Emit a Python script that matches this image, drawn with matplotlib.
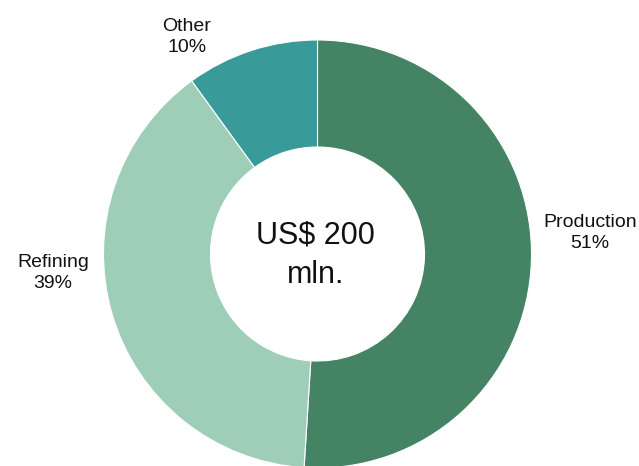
import matplotlib.pyplot as plt
from matplotlib import font_manager

segments = ["Production", "Refining", "Other"]
shares = [51, 39, 10]
colors = ["#448465", "#9ecdb8", "#389a99"]
total_label = "US$ 200\nmln."

names = {f.name for f in font_manager.fontManager.ttflist}
family = "Liberation Sans Narrow" if "Liberation Sans Narrow" in names else "Liberation Sans"
plt.rcParams["font.family"] = [family, "DejaVu Sans"]

fig = plt.figure(figsize=(6.39, 4.66), dpi=100)
ax = fig.add_axes([0, 0, 1, 1])

cx, cy, r_out = 317.5, 212, 214
ax.pie(shares, colors=colors, startangle=90, counterclock=False,
       center=(cx, cy), radius=r_out, frame=True,
       wedgeprops=dict(width=107, edgecolor="white", linewidth=0.8))
ax.set_xlim(0, 639)
ax.set_ylim(0, 466)
ax.set_aspect("equal")
ax.axis("off")

label_pos = {"Production": (590, 233), "Refining": (53, 193), "Other": (187, 429)}
for name, val in zip(segments, shares):
    x, y = label_pos[name]
    ax.text(x, y, f"{name}\n{val}%", ha="center", va="center",
            fontsize=14, linespacing=1.3, color="#111111")

ax.text(cx - 2, 211, total_label, ha="center", va="center",
        fontsize=22, linespacing=1.4, color="#111111")

fig.savefig("out.png", dpi=100)
